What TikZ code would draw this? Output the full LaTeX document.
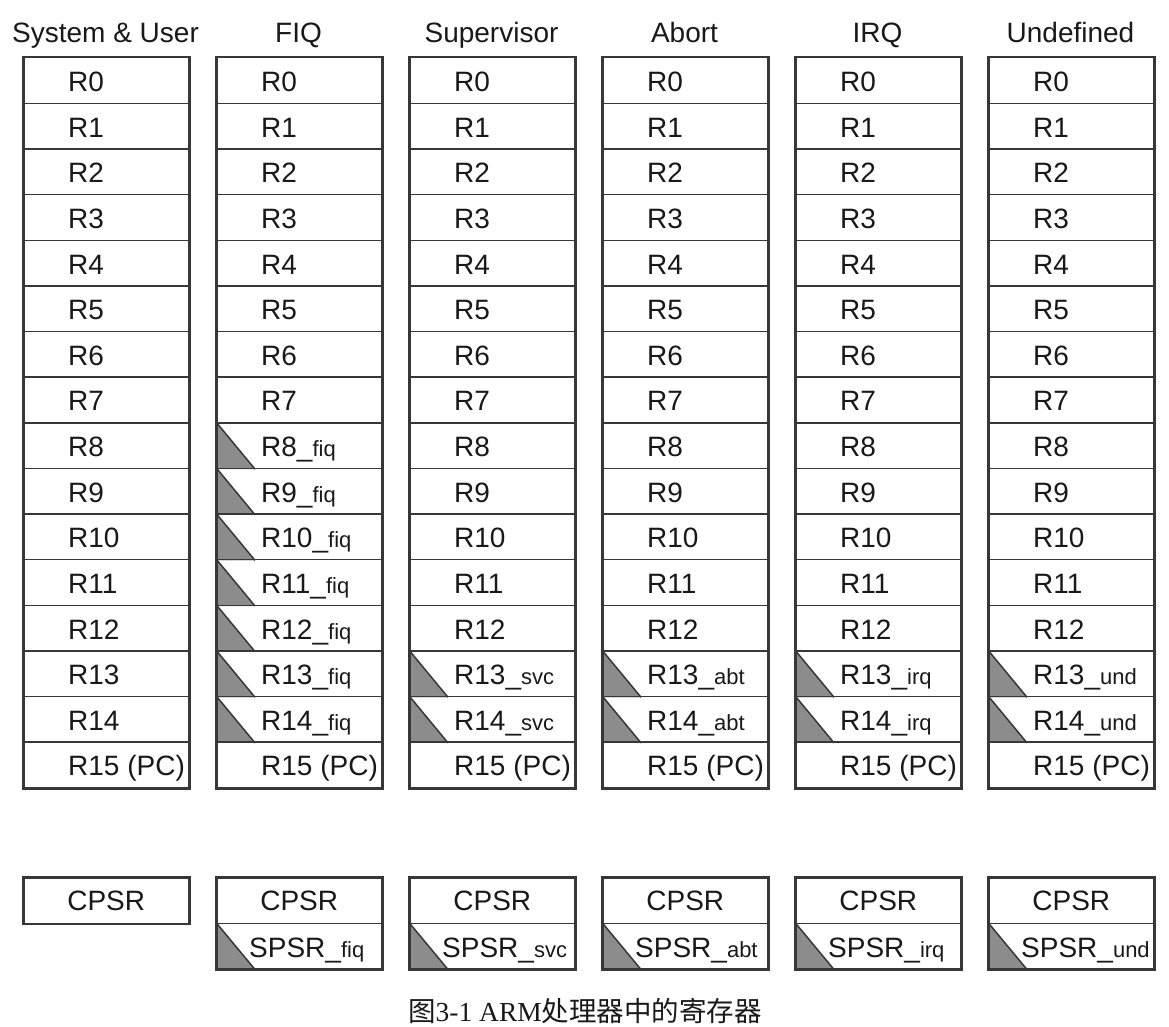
\documentclass[tikz,border=0pt]{standalone}
\usepackage{fontspec}
\setmainfont{Liberation Sans}
\newfontfamily\capserif{Liberation Serif}
\newfontfamily\capcjk{Noto Sans CJK SC}
\usetikzlibrary{backgrounds}
\definecolor{linec}{RGB}{55,55,55}
\definecolor{textc}{RGB}{25,25,25}
\definecolor{trig}{RGB}{140,140,140}
\newcommand{\regsub}[1]{\_{\fontsize{22}{24}\selectfont #1}}
\tikzset{
  cell/.style={draw=linec, line width=1.5pt, minimum width=165pt, minimum height=45.625pt, inner sep=0pt, anchor=north west},
  frame/.style={draw=linec, line width=2.2pt},
  lab/.style={anchor=base west, inner sep=0pt, font=\fontsize{28}{30}\selectfont, text=textc},
  head/.style={anchor=base, inner sep=0pt, font=\fontsize{28}{30}\selectfont, text=textc},
  trifill/.style={fill=trig},
  diag/.style={draw=linec, line width=1.5pt},
}
\begin{document}
\begin{tikzpicture}[x=1pt,y=-1pt]
\useasboundingbox (0,0) rectangle (1169,1027);
\begin{scope}[on background layer]
  \fill[white] (0,0) rectangle (1169,1027);
\end{scope}
% columns
\foreach \ci/\hd/\sfx/\first in {0/System \& User/x/15, 1/FIQ/fiq/8, 2/Supervisor/svc/13, 3/Abort/abt/13, 4/IRQ/irq/13, 5/Undefined/und/13} {
  \pgfmathsetmacro\xl{23+193*\ci}
  \node[head] (h\ci) at ({\xl+82.5}, 43) {\hd};
  \foreach \r in {0,...,15} {
    \node[cell] (c\ci-\r) at (\xl, {57+45.625*\r}) {};
  }
  \foreach \r in {0,...,14} {
    \ifnum\r<\first
      \node[lab] (l\ci-\r) at ([xshift=45pt,yshift=-11pt]c\ci-\r.west) {R\r};
    \else
      \begin{scope}[on background layer]
        \fill[trifill] (c\ci-\r.north west) -- (c\ci-\r.south west) -- ([xshift=39pt]c\ci-\r.south west) -- cycle;
      \end{scope}
      \draw[diag] (c\ci-\r.north west) -- ([xshift=39pt]c\ci-\r.south west);
      \node[lab] (l\ci-\r) at ([xshift=45pt,yshift=-11pt]c\ci-\r.west) {R\r\regsub{\sfx}};
    \fi
  }
  \node[lab] (l\ci-15) at ([xshift=45pt,yshift=-11pt]c\ci-15.west) {R15 (PC)};
  \draw[frame] (c\ci-0.north west) rectangle (c\ci-15.south east);
  % CPSR
  \node[cell, minimum height=45.5pt] (cp\ci) at (\xl, 877) {};
  \node[head] (cpl\ci) at ([yshift=-10pt]cp\ci.center) {CPSR};
  \ifnum\ci>0
    \node[cell, minimum height=45.5pt] (sp\ci) at (\xl, 922.5) {};
    \begin{scope}[on background layer]
      \fill[trifill] (sp\ci.north west) -- (sp\ci.south west) -- ([xshift=39pt]sp\ci.south west) -- cycle;
    \end{scope}
    \draw[diag] (sp\ci.north west) -- ([xshift=39pt]sp\ci.south west);
    \node[lab] (spl\ci) at ([xshift=33pt,yshift=-11pt]sp\ci.west) {SPSR\regsub{\sfx}};
    \draw[frame] (cp\ci.north west) rectangle (sp\ci.south east);
  \else
    \draw[frame] (cp\ci.north west) rectangle (cp\ci.south east);
  \fi
}
% caption
\node[anchor=base, inner sep=0pt, text=textc, font=\fontsize{27.5}{30}\selectfont] (cap) at (585, 1021)
  {{\capcjk 图}{\capserif 3-1 ARM}{\capcjk 处理器中的寄存器}};
\end{tikzpicture}
\end{document}
